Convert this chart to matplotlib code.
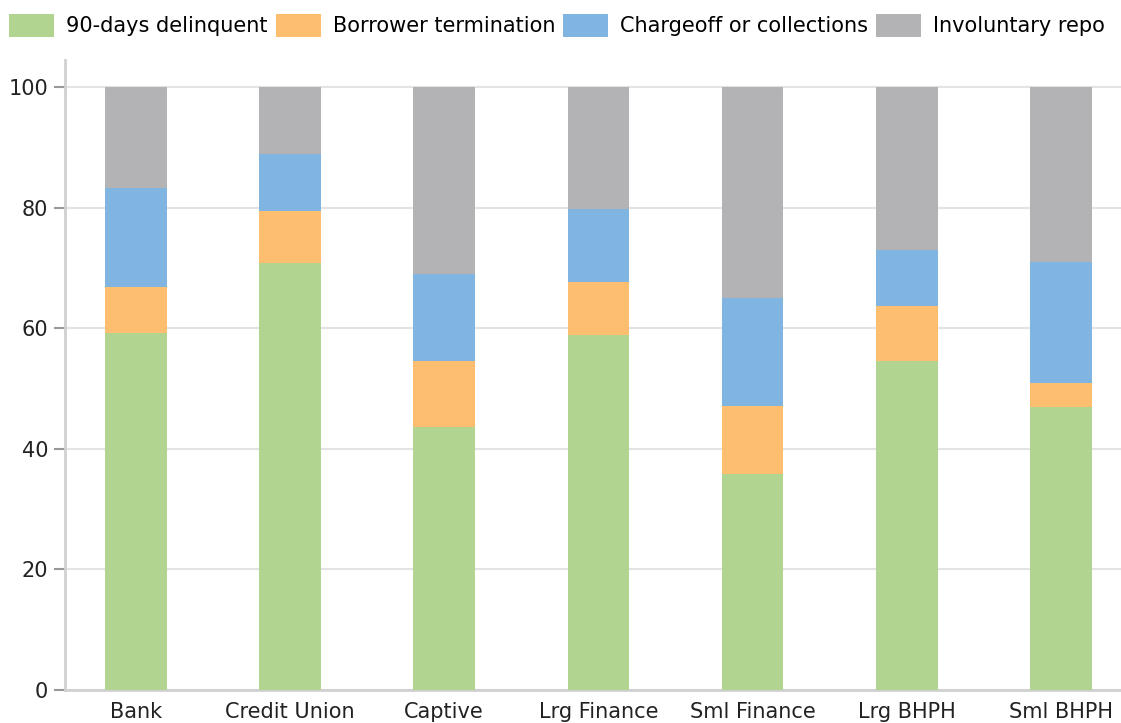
import numpy as np
import matplotlib
matplotlib.use("Agg")
import matplotlib.pyplot as plt

categories = ["Bank", "Credit Union", "Captive", "Lrg Finance",
              "Sml Finance", "Lrg BHPH", "Sml BHPH"]
delinquent = [59.2, 70.8, 43.6, 58.9, 35.8, 54.6, 46.9]
termination = [7.6, 8.6, 11.0, 8.8, 11.3, 9.1, 4.0]
chargeoff = [16.4, 9.5, 14.4, 12.1, 17.9, 9.3, 20.1]
repo = [16.8, 11.1, 31.0, 20.2, 35.0, 27.0, 29.0]

labels = ["90-days delinquent", "Borrower termination",
          "Chargeoff or collections", "Involuntary repo"]
colors = ["#b1d491", "#fdbf6f", "#80b5e2", "#b3b3b5"]

fig = plt.figure(figsize=(11.21, 7.23), dpi=100)
ax = fig.add_axes([65 / 1121, 33 / 723, 1 - 65 / 1121, 630 / 723])

x = np.arange(len(categories))
bottom = np.zeros(len(categories))
handles = []
for vals, lab, col in zip([delinquent, termination, chargeoff, repo], labels, colors):
    h = ax.bar(x, vals, width=0.4, bottom=bottom, color=col, label=lab, zorder=3)
    handles.append(h)
    bottom += np.array(vals)

ax.set_xlim(-0.46, 6.39)
ax.set_ylim(0, 104.5)
ax.set_yticks([0, 20, 40, 60, 80, 100])
ax.set_xticks(x)
ax.set_xticklabels(categories)

ax.grid(axis="y", color="#e3e3e3", linewidth=1.5, zorder=0)
for s in ["top", "right"]:
    ax.spines[s].set_visible(False)
for s in ["left", "bottom"]:
    ax.spines[s].set_color("#d0d0d0")
    ax.spines[s].set_linewidth(2)
ax.tick_params(axis="y", length=8, width=1.5, color="#999999", labelsize=15,
               labelcolor="#222222", pad=4)
ax.tick_params(axis="x", length=0, labelsize=15, labelcolor="#222222", pad=9)

fig.legend(handles=handles, labels=labels, loc="center left",
           bbox_to_anchor=(9 / 1121, 1 - 25.5 / 723), ncol=4, frameon=False,
           fontsize=15, handlelength=2.16, handleheight=1.39,
           handletextpad=0.58, columnspacing=0.38, borderpad=0, borderaxespad=0)

fig.savefig("out.png", dpi=100)
